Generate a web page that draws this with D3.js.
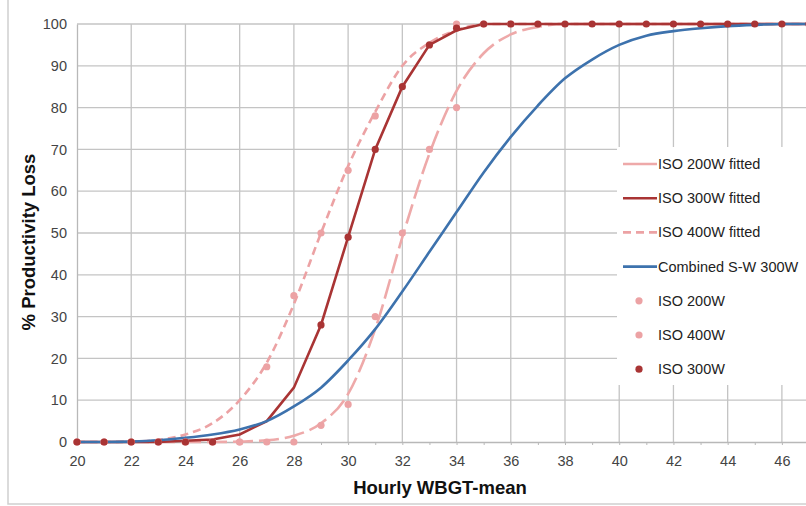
<!DOCTYPE html>
<html>
<head>
<meta charset="utf-8">
<script src="https://cdn.jsdelivr.net/npm/d3@7"></script>
<style>
  body { margin: 0; background: #fff; }
  text { font-family: "Liberation Sans", Arial, sans-serif; }
</style>
</head>
<body>
<div id="chart"></div>
<script>
// Hourly WBGT values (x categories)
const wbgt = [20, 21, 22, 23, 24, 25, 26, 27, 28, 29, 30, 31, 32, 33, 34,
  35, 36, 37, 38, 39, 40, 41, 42, 43, 44, 45, 46, 47];

// fitted curves, % productivity loss at each wbgt value
const fit200 = [0, 0, 0, 0, 0, 0, 0.1, 0.4, 1.5, 4.5, 11.5, 27, 49, 69, 84,
  93, 97.5, 99.3, 100, 100, 100, 100, 100, 100, 100, 100, 100, 100];
const fit300 = [0, 0, 0, 0, 0.3, 0.6, 1.8, 5, 13, 28, 49, 70, 85, 95, 98.5,
  100, 100, 100, 100, 100, 100, 100, 100, 100, 100, 100, 100, 100];
const fit400 = [0, 0, 0.1, 0.5, 1.8, 4.5, 10, 19, 33, 50, 66, 79, 90, 95.5, 98.5,
  100, 100, 100, 100, 100, 100, 100, 100, 100, 100, 100, 100, 100];
const combined = [0, 0, 0.1, 0.4, 1, 1.8, 3, 5, 8.5, 13, 19.5, 27, 36, 45.5, 55,
  64.5, 73, 80.5, 87, 91.5, 95, 97.2, 98.3, 99, 99.5, 99.8, 100, 100];

// ISO table points
const iso200X = [20, 21, 22, 23, 24, 25, 26, 27, 28, 29, 30, 31, 32, 33, 34, 35, 36];
const iso200Y = [0, 0, 0, 0, 0, 0, 0, 0, 0, 4, 9, 30, 50, 70, 80, 100, 100];
const iso400X = [20, 21, 22, 23, 24, 25, 26, 27, 28, 29, 30, 31, 34];
const iso400Y = [0, 0, 0, 0, 0, 0, 0, 18, 35, 50, 65, 78, 100];
const iso300X = [20, 21, 22, 23, 24, 25, 29, 30, 31, 32, 33, 34, 35, 36, 37,
  38, 39, 40, 41, 42, 43, 44, 45, 46, 47];
const iso300Y = [0, 0, 0, 0, 0, 0, 28, 49, 70, 85, 95, 99, 100, 100, 100,
  100, 100, 100, 100, 100, 100, 100, 100, 100, 100];

const yTicks = [0, 10, 20, 30, 40, 50, 60, 70, 80, 90, 100];
const xTicks = [20, 22, 24, 26, 28, 30, 32, 34, 36, 38, 40, 42, 44, 46];

const W = 806, H = 506;
const darkRed = "#a93434", pink = "#eca2a4", pink2 = "#eea9a9", blue = "#3d72ad";

const svg = d3.select("#chart").append("svg")
  .attr("width", W).attr("height", H);

// outer frame
svg.append("rect")
  .attr("x", 8).attr("y", -4).attr("width", W).attr("height", 508)
  .attr("fill", "none").attr("stroke", "#cfcfcf").attr("stroke-width", 1.5);

const x = d3.scaleLinear().domain([20, 47]).range([77, 809]);
const y = d3.scaleLinear().domain([0, 100]).range([442, 24]);

// gridlines
svg.append("g").selectAll("line").data(yTicks.slice(1)).enter()
  .append("line")
    .attr("x1", x(20)).attr("x2", W)
    .attr("y1", d => y(d)).attr("y2", d => y(d))
    .attr("stroke", "#c4c4c4").attr("stroke-width", 1.3);
svg.append("g").selectAll("line").data(xTicks.slice(1)).enter()
  .append("line")
    .attr("x1", d => x(d)).attr("x2", d => x(d))
    .attr("y1", y(0)).attr("y2", y(100))
    .attr("stroke", "#c4c4c4").attr("stroke-width", 1.3);

// axes
let xAxis = svg.append("g")
  .attr("transform", `translate(0,${y(0)})`)
  .call(d3.axisBottom(x).tickValues(wbgt.slice(0, 27)).tickSize(3)
    .tickFormat(d => xTicks.includes(d) ? d : ""));
xAxis.select(".domain").attr("stroke", "#b8b8b8").attr("stroke-width", 1.3);
xAxis.selectAll(".tick line").attr("stroke", "#b8b8b8");
xAxis.selectAll("text").attr("fill", "#444").attr("font-size", 14.5)
  .attr("y", 14).attr("dy", "0.71em");

let yAxis = svg.append("g")
  .attr("transform", `translate(${x(20)},0)`)
  .call(d3.axisLeft(y).tickValues(yTicks).tickSize(0).tickPadding(10));
yAxis.select(".domain").attr("stroke", "#b8b8b8").attr("stroke-width", 1.3);
yAxis.selectAll("text").attr("fill", "#444").attr("font-size", 14.5);

// axis titles
svg.append("text")
  .attr("x", 440).attr("y", 494).attr("text-anchor", "middle")
  .attr("font-size", 18.5).attr("font-weight", "bold").attr("fill", "#111")
  .text("Hourly WBGT-mean");
svg.append("text")
  .attr("transform", `translate(35,242) rotate(-90)`)
  .attr("text-anchor", "middle")
  .attr("font-size", 18.5).attr("font-weight", "bold").attr("fill", "#111")
  .text("% Productivity Loss");

// lines
const series = [
  {name: "ISO 200W fitted", vals: fit200, color: pink2, dash: "20,6", curve: d3.curveMonotoneX},
  {name: "ISO 400W fitted", vals: fit400, color: pink, dash: "8,5", curve: d3.curveMonotoneX},
  {name: "ISO 300W fitted", vals: fit300, color: darkRed, dash: null, curve: d3.curveLinear},
  {name: "Combined S-W 300W", vals: combined, color: blue, dash: null, curve: d3.curveMonotoneX},
];

series.forEach(function(s) {
  let line = d3.line().curve(s.curve)
    .x((d, i) => x(wbgt[i])).y(d => y(d));
  svg.append("path")
    .attr("d", line(s.vals))
    .attr("fill", "none").attr("stroke", s.color)
    .attr("stroke-width", 2.6)
    .attr("stroke-dasharray", s.dash);
});

// points
const points = [
  {xs: iso200X, ys: iso200Y, color: pink},
  {xs: iso400X, ys: iso400Y, color: pink},
  {xs: iso300X, ys: iso300Y, color: darkRed},
];
points.forEach(function(p) {
  svg.append("g").selectAll("circle").data(p.xs).enter()
    .append("circle")
      .attr("cx", d => x(d))
      .attr("cy", (d, i) => y(p.ys[i]))
      .attr("r", 3.6)
      .attr("fill", p.color);
});

// legend
svg.append("rect")
  .attr("x", 617).attr("y", 147).attr("width", 200).attr("height", 238)
  .attr("fill", "#fff");

const legendItems = [
  {label: "ISO 200W fitted", type: "line", color: pink2, dash: null},
  {label: "ISO 300W fitted", type: "line", color: darkRed, dash: null},
  {label: "ISO 400W fitted", type: "line", color: pink, dash: "8,5"},
  {label: "Combined S-W 300W", type: "line", color: blue, dash: null},
  {label: "ISO 200W", type: "dot", color: pink},
  {label: "ISO 400W", type: "dot", color: pink},
  {label: "ISO 300W", type: "dot", color: darkRed},
];

let leg = svg.append("g").selectAll("g").data(legendItems).enter()
  .append("g")
    .attr("transform", (d, i) => `translate(0,${164 + i * 34.2})`);

leg.filter(d => d.type === "line").append("line")
  .attr("x1", 623).attr("x2", 657).attr("y1", 0).attr("y2", 0)
  .attr("stroke", d => d.color).attr("stroke-width", 2.6)
  .attr("stroke-dasharray", d => d.dash);
leg.filter(d => d.type === "dot").append("circle")
  .attr("cx", 639).attr("cy", 0).attr("r", 3.6)
  .attr("fill", d => d.color);
leg.append("text")
  .attr("x", 658).attr("y", 0).attr("dy", "0.35em")
  .attr("font-size", 14.5).attr("fill", "#222")
  .text(d => d.label);
</script>
</body>
</html>
